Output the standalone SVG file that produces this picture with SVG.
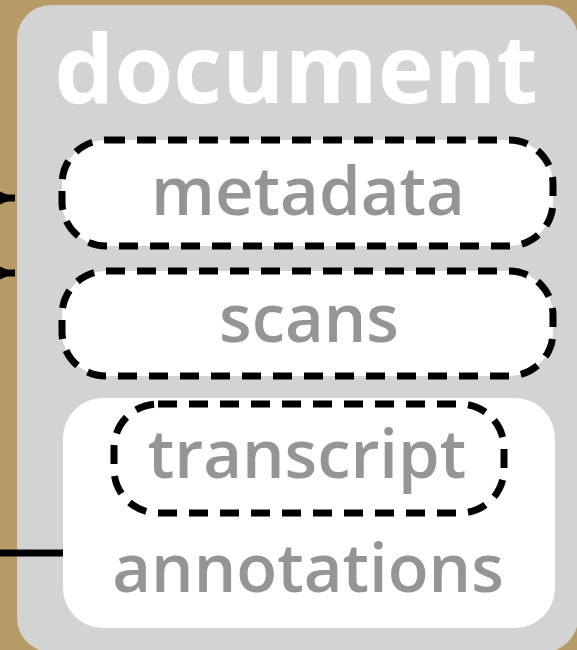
<svg xmlns="http://www.w3.org/2000/svg" width="577" height="650" viewBox="0 0 577 650">
<defs>
<marker id="arr" viewBox="0 0 16 14" refX="16" refY="7" markerWidth="16" markerHeight="14" orient="auto" markerUnits="userSpaceOnUse">
<path d="M0,0 L16,7 L0,14 Z" fill="#000"/>
</marker>
</defs>
<style>
.lbl{font-family:"Open Sans","DejaVu Sans",sans-serif;font-weight:600;fill:#959595;text-anchor:middle}
.dash{fill:#fff;stroke:#000;stroke-width:7;stroke-dasharray:19 12}
.conn{stroke:#000;stroke-width:7;fill:none}
</style>
<rect x="0" y="0" width="577" height="650" fill="#b79b66"/>
<g id="document">
<rect x="17" y="5" width="561" height="647" rx="34" fill="#d3d3d3"/>
<text x="296" y="103" font-family="'Open Sans','DejaVu Sans',sans-serif" font-weight="700" font-size="95" fill="#fff" text-anchor="middle">document</text>
</g>
<g id="metadata">
<rect class="dash" x="62" y="140" width="491" height="106" rx="44"/>
<text class="lbl" x="308" y="215" font-size="67">metadata</text>
</g>
<g id="scans">
<rect class="dash" x="62" y="271" width="491" height="105" rx="44"/>
<text class="lbl" x="309" y="342" font-size="67">scans</text>
</g>
<g id="annotations">
<rect x="63" y="398" width="492" height="230" rx="40" fill="#fff"/>
<text class="lbl" x="308" y="592" font-size="67">annotations</text>
</g>
<g id="transcript">
<rect class="dash" x="114" y="404" width="390" height="109" rx="44"/>
<text class="lbl" x="307" y="478" font-size="67">transcript</text>
</g>
<g id="connectors">
<line class="conn" x1="-10" y1="198" x2="15" y2="198" stroke-width="4" marker-end="url(#arr)"/>
<line class="conn" x1="-10" y1="273" x2="15" y2="273" stroke-width="4" marker-end="url(#arr)"/>
<line class="conn" x1="-10" y1="553" x2="63" y2="553"/>
</g>
</svg>
